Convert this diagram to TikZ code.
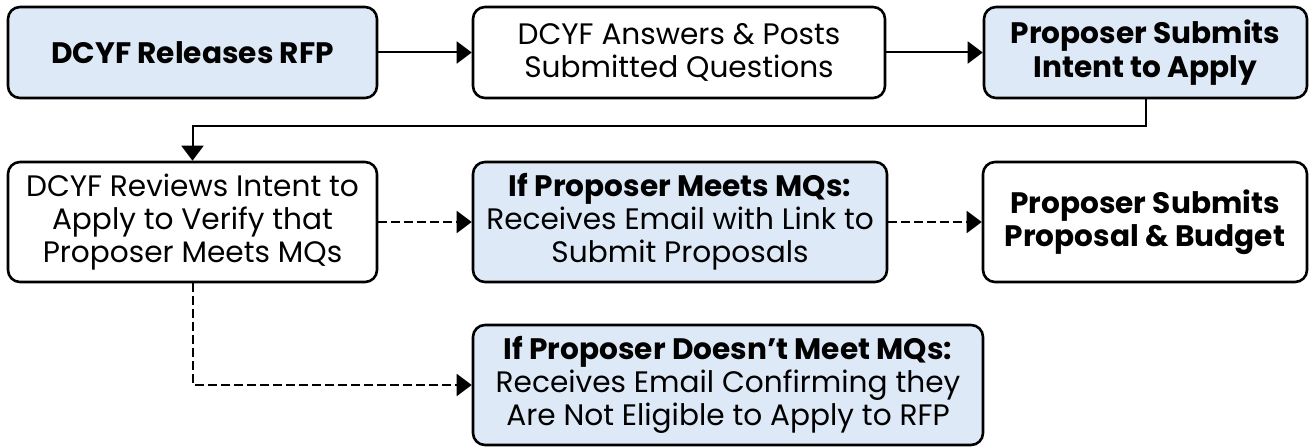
\documentclass[tikz,border=0pt]{standalone}
\usepackage{fontspec}
\setmainfont{Poppins}
\usetikzlibrary{arrows.meta}
\definecolor{stepblue}{HTML}{DDE9F6}

\begin{document}
\begin{tikzpicture}[
        x=0.5pt,y=-0.5pt,
        stepbox/.style={draw,line width=1.3pt,rounded corners=6pt,align=center,
          inner sep=0pt,font=\fontsize{14.8}{16.6}\selectfont},
        bluebox/.style={stepbox,fill=stepblue},
        conn/.style={line width=1pt,-{Triangle[length=7.5pt,width=11pt]}},
        dashconn/.style={conn,dash pattern=on 4.5pt off 2pt}
      ]
      \useasboundingbox (0,0) rectangle (1309,448);

      % top row
      \node[bluebox,minimum width=184.5pt,minimum height=45.5pt] (releases) at (192.5,52.5)
        {\textbf{DCYF Releases RFP}};
      \node[stepbox,minimum width=206pt,minimum height=45.5pt] (answers) at (679,52.5)
        {DCYF Answers \& Posts\\Submitted Questions};
      \node[bluebox,minimum width=161.5pt,minimum height=45.5pt] (intent) at (1145.5,52.5)
        {\textbf{Proposer Submits}\\\textbf{Intent to Apply}};

      % middle row
      \node[stepbox,minimum width=184.5pt,minimum height=60pt] (reviews) at (192.5,222)
        {DCYF Reviews Intent to\\Apply to Verify that\\Proposer Meets MQs};
      \node[bluebox,minimum width=207pt,minimum height=60pt] (meets) at (680,222)
        {\textbf{If Proposer Meets MQs:}\\Receives Email with Link to\\Submit Proposals};
      \node[stepbox,minimum width=162pt,minimum height=60pt] (budget) at (1145,222)
        {\textbf{Proposer Submits}\\\textbf{Proposal \& Budget}};

      % bottom row
      \node[bluebox,minimum width=255pt,minimum height=60pt] (notmeet) at (728,385)
        {\textbf{If Proposer Doesn’t Meet MQs:}\\Receives Email Confirming they\\Are Not Eligible to Apply to RFP};

      \coordinate (turn) at (192.5,126);

      \draw[conn] (releases) -- (answers);
      \draw[conn] (answers) -- (intent);
      \draw[conn] (intent.south) |- (turn) -- (reviews.north);
      \draw[dashconn] (reviews) -- (meets);
      \draw[dashconn] (meets) -- (budget);
      \draw[dashconn] (reviews.south) |- (notmeet.west);
    \end{tikzpicture}
\end{document}
